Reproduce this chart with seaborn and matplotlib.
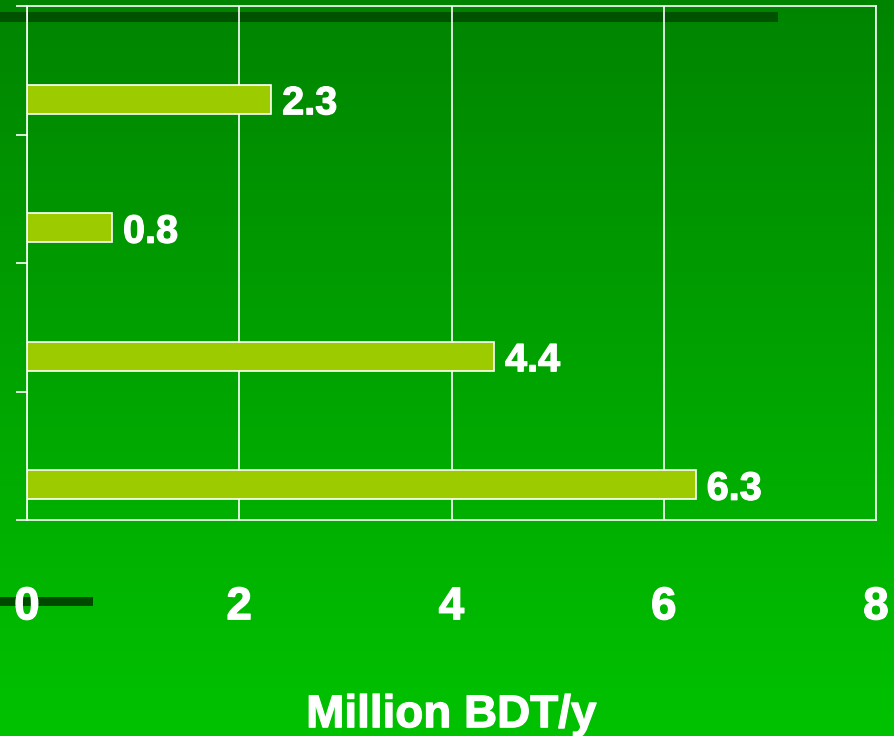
import numpy as np
import pandas as pd
import matplotlib
matplotlib.use("Agg")
import matplotlib.pyplot as plt
import matplotlib.patheffects as pe
import seaborn as sns
from matplotlib.colors import LinearSegmentedColormap
from matplotlib.patches import Rectangle

# ---- data ----
categories = ["Item 1", "Item 2", "Item 3", "Item 4"]
values = [2.3, 0.8, 4.4, 6.3]
series = ["s1", "s2", "s3"]          # only the last series carries values
x_ticks = [0, 2, 4, 6, 8]
x_label = "Million BDT/y"

rows = []
for c, v in zip(categories, values):
    rows.append((c, "s1", 0.0))
    rows.append((c, "s2", 0.0))
    rows.append((c, "s3", v))
df = pd.DataFrame(rows, columns=["category", "series", "value"])

sns.set_style("white")
plt.rcParams["font.family"] = ["Liberation Sans", "DejaVu Sans"]
plt.rcParams["font.weight"] = "bold"

W, H = 895, 736
fig = plt.figure(figsize=(W / 100, H / 100), dpi=100)

# gradient background
bg = fig.add_axes([0, 0, 1, 1], zorder=-10)
cmap = LinearSegmentedColormap.from_list("g", ["#008400", "#00c200"])
grad = np.linspace(0, 1, 256).reshape(-1, 1)
bg.imshow(grad, aspect="auto", cmap=cmap, extent=[0, 1, 0, 1], origin="upper")
bg.set_axis_off()
# decorative dark strips from the slide
bg.add_patch(Rectangle((0, 1 - 22 / H), 778 / W, 10 / H, color="#005200", lw=0, transform=bg.transAxes))
bg.add_patch(Rectangle((0, 1 - 606 / H), 93 / W, 9 / H, color="#004a00", lw=0, transform=bg.transAxes))

ax = fig.add_axes([27 / W, 1 - 520 / H, (876 - 27) / W, (520 - 6) / H])
ax.set_facecolor("none")

sns.barplot(data=df, y="category", x="value", hue="series", hue_order=series,
            orient="h", width=0.677, dodge=True, saturation=1,
            palette=["#9ccc00", "#9ccc00", "#9ccc00"],
            edgecolor="white", linewidth=1.2, legend=False, ax=ax)

for p in list(ax.patches):
    if p.get_width() == 0:
        p.remove()

heavy = [pe.withStroke(linewidth=0.9, foreground="white")]

texts = ax.bar_label(ax.containers[2], labels=[f"{v:.1f}" for v in values], padding=8,
                     color="white", fontsize=28.5, fontweight="bold")
for t in texts:
    t.set_path_effects(heavy)
    t.set_va("center_baseline")

ax.set_xlim(0, 8)
ax.set_ylim(3.5, -0.5)
ax.set_xticks(x_ticks)
ax.set_xticklabels([str(t) for t in x_ticks])
ax.set_yticks([-0.5, 0.5, 1.5, 2.5, 3.5])
ax.set_yticklabels([])
ax.set_ylabel("")
ax.set_axisbelow(True)
ax.grid(axis="x", color="white", lw=1.2)
ax.grid(axis="y", visible=False)

for s in ax.spines.values():
    s.set_color("white")
    s.set_linewidth(1.2)

ax.tick_params(axis="x", direction="out", length=11, width=1.2, color="white",
               labelcolor="white", labelsize=33, pad=36)
ax.tick_params(axis="y", direction="out", length=8, width=1.2, color="white",
               left=True)
for lab in ax.get_xticklabels():
    lab.set_fontweight("bold")
    lab.set_path_effects(heavy)

xl = ax.set_xlabel(x_label, color="white", fontsize=33, fontweight="bold", labelpad=46)
xl.set_path_effects(heavy)

fig.savefig("out.png", dpi=100)
